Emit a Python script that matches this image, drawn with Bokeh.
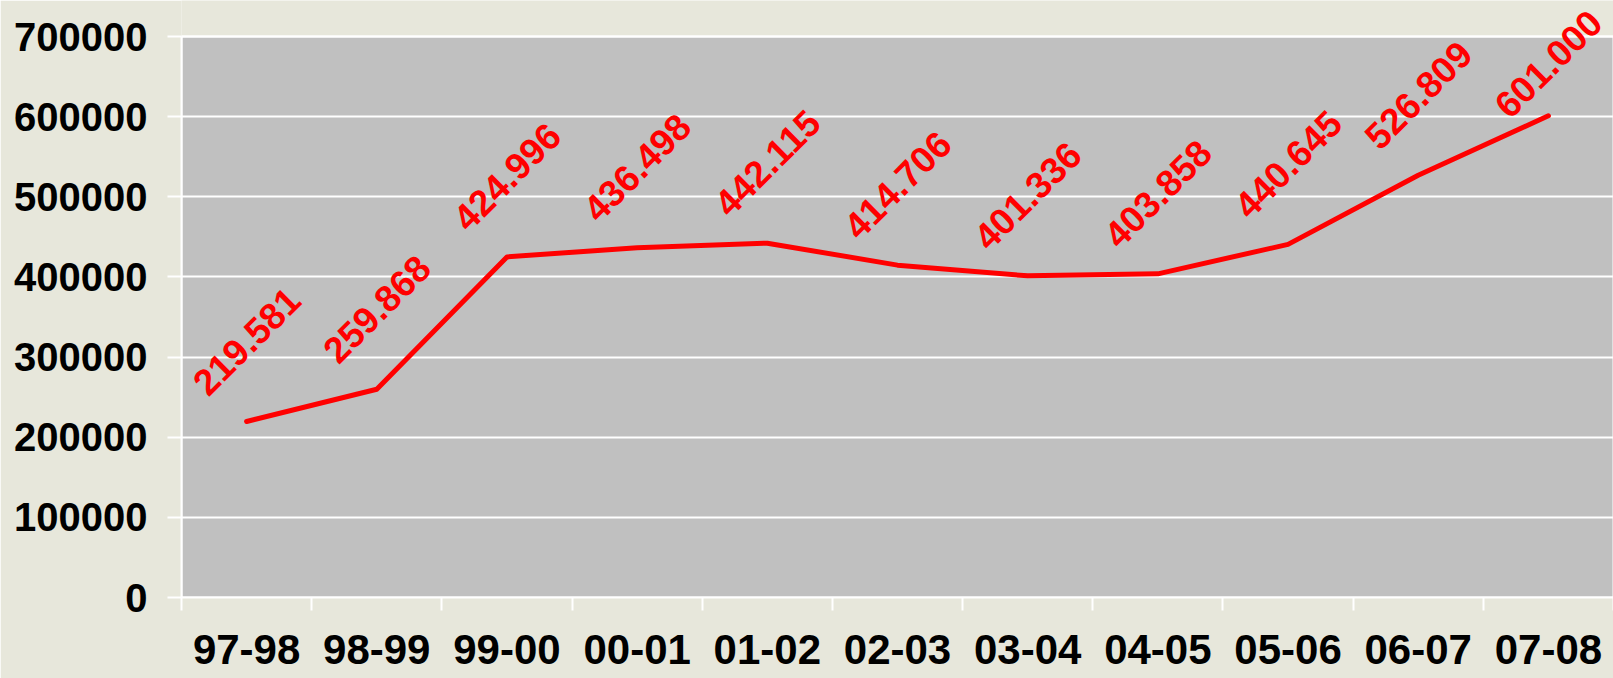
import numpy as np
from bokeh.plotting import figure
from bokeh.models import FixedTicker, Range1d, ColumnDataSource, BasicTickFormatter, LabelSet
from bokeh.core.properties import value
from bokeh.embed import file_html
from bokeh.resources import INLINE

categories = ["97-98", "98-99", "99-00", "00-01", "01-02", "02-03",
              "03-04", "04-05", "05-06", "06-07", "07-08"]
values = [219581, 259868, 424996, 436498, 442115, 414706,
          401336, 403858, 440645, 526809, 601000]
label_texts = ["219.581", "259.868", "424.996", "436.498", "442.115", "414.706",
               "401.336", "403.858", "440.645", "526.809", "601.000"]
y_ticks = [0, 100000, 200000, 300000, 400000, 500000, 600000, 700000]

FONT = "Liberation Sans"
n = len(categories)
x = np.arange(n) + 0.5
y = np.array(values, dtype=float)
ymax = y_ticks[-1]
# plot area occupies 561 of the 597 px above the x axis; the rest is headroom for labels
view_top = ymax * 597.0 / 561.0
label_y = np.minimum(y + 100000, ymax - 34000)

src = ColumnDataSource(dict(x=x, y=y, ly=label_y, t=label_texts))
area = ColumnDataSource(dict(left=[0], right=[n], bottom=[0], top=[ymax]))

p = figure(width=1613, height=678, output_backend="svg", toolbar_location=None,
           x_range=Range1d(0, n), y_range=Range1d(0, view_top),
           min_border_left=181, min_border_top=0, min_border_right=0,
           min_border_bottom=81)

p.background_fill_color = "#E7E7DB"
p.border_fill_color = "#E7E7DB"
p.outline_line_color = None

p.quad(left="left", right="right", bottom="bottom", top="top", source=area,
       fill_color="#C0C0C0", line_color="white", line_width=2, level="image")

p.line("x", "y", source=src, line_color="#FF0000", line_width=5, line_join="round", line_cap="round")

labels = LabelSet(x="x", y="ly", text="t", source=src, angle=np.pi / 4,
                  text_align="center", text_baseline="middle", text_color="#FF0000",
                  text_font=value(FONT), text_font_style="bold", text_font_size="37px")
p.add_layout(labels)

# y axis
p.yaxis.ticker = FixedTicker(ticks=y_ticks)
p.yaxis.bounds = (0, ymax)
p.yaxis.formatter = BasicTickFormatter(use_scientific=False)
p.yaxis.major_label_text_font = FONT
p.yaxis.major_label_text_font_style = "bold"
p.yaxis.major_label_text_font_size = "40px"
p.yaxis.major_label_text_color = "black"
p.yaxis.axis_line_color = "white"
p.yaxis.axis_line_width = 2
p.yaxis.major_tick_line_color = "white"
p.yaxis.major_tick_line_width = 2
p.yaxis.major_tick_out = 14
p.yaxis.major_tick_in = 0
p.yaxis.minor_tick_line_color = None
p.yaxis.major_label_standoff = 20

# x axis
p.xaxis.ticker = FixedTicker(ticks=list(x), minor_ticks=list(range(n + 1)))
p.xaxis.major_label_overrides = {float(xi): c for xi, c in zip(x, categories)}
p.xaxis.major_label_text_font = FONT
p.xaxis.major_label_text_font_style = "bold"
p.xaxis.major_label_text_font_size = "42px"
p.xaxis.major_label_text_color = "black"
p.xaxis.axis_line_color = "white"
p.xaxis.axis_line_width = 2
p.xaxis.major_tick_line_color = None
p.xaxis.major_tick_out = 0
p.xaxis.minor_tick_line_color = "white"
p.xaxis.minor_tick_line_width = 2
p.xaxis.minor_tick_out = 13
p.xaxis.minor_tick_in = 0
p.xaxis.major_label_standoff = 24

p.xgrid.grid_line_color = None
p.ygrid.ticker = FixedTicker(ticks=y_ticks)
p.ygrid.grid_line_color = "white"
p.ygrid.grid_line_width = 2

open("out.html", "w").write(file_html(p, INLINE))
